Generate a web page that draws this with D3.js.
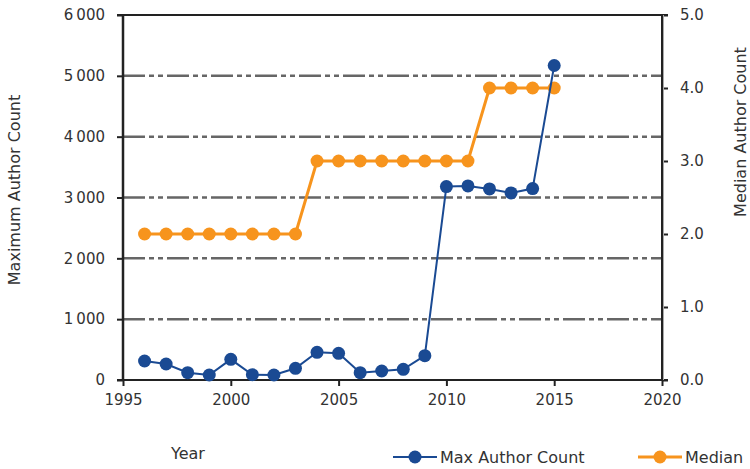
<!DOCTYPE html>
<html>
<head>
<meta charset="utf-8">
<script src="https://cdn.jsdelivr.net/npm/d3@7"></script>
<style>
  body { margin: 0; background: #fff; }
  svg text { font-family: "DejaVu Sans", sans-serif; fill: #333; }
</style>
</head>
<body>
<div id="chart"></div>
<script>
// data
var years = [1996, 1997, 1998, 1999, 2000, 2001, 2002, 2003, 2004, 2005,
             2006, 2007, 2008, 2009, 2010, 2011, 2012, 2013, 2014, 2015];
var maxAuthors = [312, 263, 120, 82, 340, 87, 82, 192, 455, 438,
                  120, 148, 176, 400, 3180, 3190, 3141, 3075, 3147, 5170];
var medianAuthors = [2, 2, 2, 2, 2, 2, 2, 2, 3, 3,
                     3, 3, 3, 3, 3, 3, 4, 4, 4, 4];
var xTicks = [1995, 2000, 2005, 2010, 2015, 2020];
var yLeftTicks = [0, 1000, 2000, 3000, 4000, 5000, 6000];
var yRightTicks = [0, 1, 2, 3, 4, 5];

var W = 750, H = 469;
var margin = {top: 15, right: 88, bottom: 89, left: 123},
    width = W - margin.left - margin.right,
    height = H - margin.top - margin.bottom;

var blue = "#1a4a93", orange = "#f7941d";

var x = d3.scaleLinear().domain([1995, 2020]).range([0, width]);
var yL = d3.scaleLinear().domain([0, 6000]).range([height, 0]);
var yR = d3.scaleLinear().domain([0, 5]).range([height, 0]);

var svg = d3.select("#chart").append("svg")
    .attr("width", W).attr("height", H);
var g = svg.append("g")
    .attr("transform", "translate(" + margin.left + "," + margin.top + ")");

var fmtL = function(d) { return d3.format(",")(d).replace(",", "\u2009"); };

// gridlines
g.selectAll(".grid").data(yLeftTicks.filter(function(d) { return d > 0 && d < 6000; }))
  .enter().append("line")
    .attr("class", "grid")
    .attr("x1", 0).attr("x2", width)
    .attr("y1", function(d) { return yL(d); })
    .attr("y2", function(d) { return yL(d); })
    .attr("stroke", "#666").attr("stroke-width", 2.5)
    .attr("stroke-dasharray", "22,4,5,4,5,4");

// frame top/bottom
g.append("line").attr("x1", -6).attr("x2", width + 6).attr("y1", 0).attr("y2", 0)
  .attr("stroke", "#222").attr("stroke-width", 2);
g.append("line").attr("x1", -6).attr("x2", width + 6).attr("y1", height).attr("y2", height)
  .attr("stroke", "#222").attr("stroke-width", 2);

// axes
var xAxis = d3.axisBottom(x).tickValues(xTicks).tickFormat(d3.format("d")).tickSize(6).tickPadding(8);
var yAxisL = d3.axisLeft(yL).tickValues(yLeftTicks).tickFormat(fmtL).tickSize(6).tickPadding(12);
var yAxisR = d3.axisRight(yR).tickValues(yRightTicks).tickFormat(d3.format(".1f")).tickSize(6).tickPadding(12);

function styleAxis(sel) {
  sel.select(".domain").remove();
  sel.selectAll(".tick line").attr("stroke", "#222").attr("stroke-width", 2);
  sel.selectAll("text").style("font-size", "15px").attr("fill", "#333");
}

g.append("g").attr("transform", "translate(0," + height + ")").call(xAxis).call(styleAxis);
g.append("g").call(yAxisL).call(styleAxis);
g.append("g").attr("transform", "translate(" + width + ",0)").call(yAxisR).call(styleAxis);

g.append("line").attr("x1", 0).attr("x2", 0).attr("y1", 0).attr("y2", height)
  .attr("stroke", "#222").attr("stroke-width", 2.5);
g.append("line").attr("x1", width + 1.5).attr("x2", width + 1.5).attr("y1", 0).attr("y2", height)
  .attr("stroke", "#aaa").attr("stroke-width", 1);
g.append("line").attr("x1", width).attr("x2", width).attr("y1", 0).attr("y2", height)
  .attr("stroke", "#222").attr("stroke-width", 2);

// series
var lineL = d3.line().x(function(d, i) { return x(years[i]); }).y(function(d) { return yL(d); });
var lineR = d3.line().x(function(d, i) { return x(years[i]); }).y(function(d) { return yR(d); });

g.append("path").attr("d", lineR(medianAuthors))
  .attr("fill", "none").attr("stroke", orange).attr("stroke-width", 3);
g.selectAll(".med").data(medianAuthors).enter().append("circle")
  .attr("cx", function(d, i) { return x(years[i]); })
  .attr("cy", function(d) { return yR(d); })
  .attr("r", 6.5).attr("fill", orange);

g.append("path").attr("d", lineL(maxAuthors))
  .attr("fill", "none").attr("stroke", blue).attr("stroke-width", 2);
g.selectAll(".max").data(maxAuthors).enter().append("circle")
  .attr("cx", function(d, i) { return x(years[i]); })
  .attr("cy", function(d) { return yL(d); })
  .attr("r", 6.5).attr("fill", blue);

// axis titles
svg.append("text").attr("transform", "translate(20,190) rotate(-90)")
  .attr("text-anchor", "middle").style("font-size", "16px").text("Maximum Author Count");
svg.append("text").attr("transform", "translate(746,132) rotate(-90)")
  .attr("text-anchor", "middle").style("font-size", "16px").text("Median Author Count");
svg.append("text").attr("x", 188).attr("y", 459)
  .attr("text-anchor", "middle").style("font-size", "16px").text("Year");

// legend
var legend = [{name: "Max Author Count", color: blue, x: 393, w: 2},
              {name: "Median", color: orange, x: 638, w: 3}];
var lg = svg.selectAll(".leg").data(legend).enter().append("g")
  .attr("transform", function(d) { return "translate(" + d.x + ",457)"; });
lg.append("line").attr("x1", 0).attr("x2", 44).attr("y1", 0).attr("y2", 0)
  .attr("stroke", function(d) { return d.color; }).attr("stroke-width", function(d) { return d.w; });
lg.append("circle").attr("cx", 22).attr("cy", 0).attr("r", 6.5)
  .attr("fill", function(d) { return d.color; });
lg.append("text").attr("x", 47).attr("y", 6).style("font-size", "16px")
  .text(function(d) { return d.name; });
</script>
</body>
</html>
